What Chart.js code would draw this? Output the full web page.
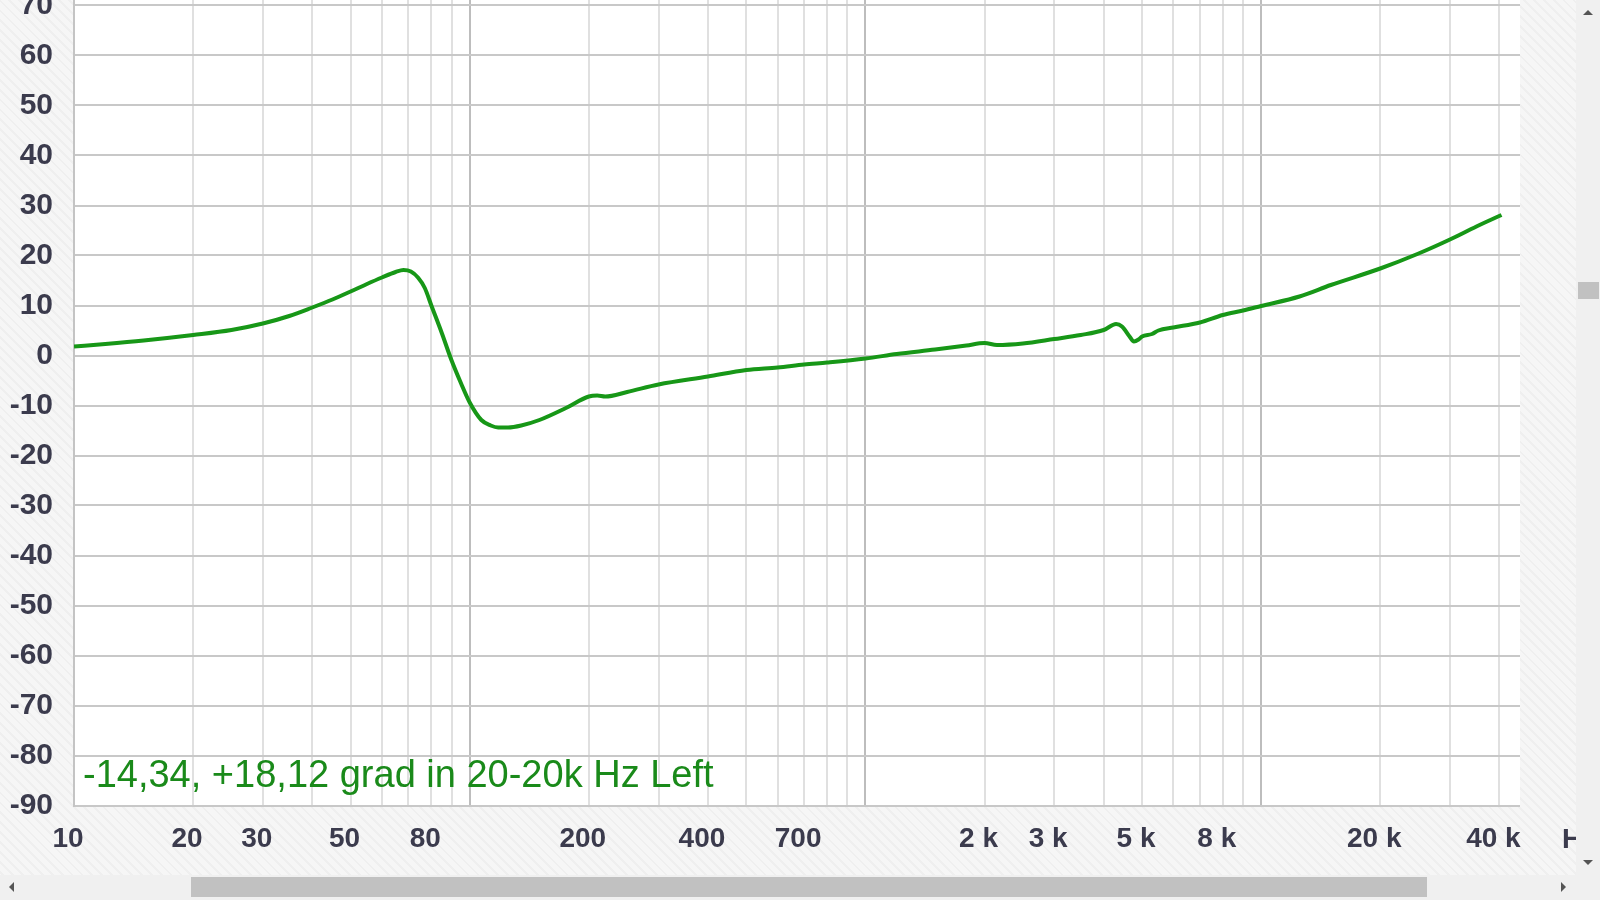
<!DOCTYPE html>
<html>
<head>
<meta charset="utf-8">
<script src="https://cdn.jsdelivr.net/npm/chart.js@4"></script>
<style>
  html, body { margin: 0; padding: 0; }
  body {
    width: 1600px; height: 900px; overflow: hidden; position: relative;
    background: repeating-linear-gradient(45deg, #f6f6f6 0px, #f6f6f6 5px, #efefef 5px, #efefef 7px);
  }
  #phase-chart { position: absolute; left: 0; top: 0; }
  .bar { position: absolute; background: #f0f0f0; }
  .thumb { position: absolute; background: #c1c1c1; }
  .arrow { position: absolute; width: 0; height: 0; }
</style>
</head>
<body>
<canvas id="phase-chart" width="1600" height="900"></canvas>

<div class="bar" style="left:1576px;top:0;width:24px;height:900px;"></div>
<div class="bar" style="left:0;top:875px;width:1600px;height:25px;"></div>
<div class="thumb" style="left:1578px;top:282px;width:21px;height:17px;"></div>
<div class="thumb" style="left:191px;top:877px;width:1236px;height:20px;"></div>
<div class="arrow" style="left:1583px;top:10px;border-left:5px solid transparent;border-right:5px solid transparent;border-bottom:5px solid #555;"></div>
<div class="arrow" style="left:1583px;top:860px;border-left:5px solid transparent;border-right:5px solid transparent;border-top:5px solid #555;"></div>
<div class="arrow" style="left:9px;top:882px;border-top:5px solid transparent;border-bottom:5px solid transparent;border-right:5px solid #555;"></div>
<div class="arrow" style="left:1561px;top:882px;border-top:5px solid transparent;border-bottom:5px solid transparent;border-left:5px solid #555;"></div>

<script>
// frequency (Hz) and phase (grad)
const freqs = [10, 12, 15, 20, 25, 30, 35, 40, 45, 50, 55, 60, 65, 68, 71, 74, 77, 80, 85, 90,
  95, 100, 107, 113, 118, 125, 135, 150, 175, 200, 210, 220, 250, 300, 400, 500, 600, 700, 800,
  1000, 1200, 1500, 1800, 2000, 2150, 2500, 3000, 3500, 4000, 4300, 4450, 4650, 4770, 4900, 5000,
  5300, 5500, 6000, 7000, 8000, 9000, 10000, 12500, 15000, 20000, 25000, 30000, 35000, 40500];
const phase = [1.8, 2.3, 3.0, 4.1, 5.1, 6.4, 7.9, 9.6, 11.2, 12.8, 14.3, 15.6, 16.7, 17.1, 16.8, 15.6, 13.5, 10.0, 4.5, -1.0,
  -5.5, -9.4, -12.9, -14.0, -14.4, -14.4, -14.0, -12.9, -10.5, -8.2, -8.0, -8.2, -7.3, -5.8, -4.2, -2.9, -2.4, -1.8, -1.4,
  -0.6, 0.3, 1.2, 2.0, 2.5, 2.1, 2.4, 3.3, 4.1, 5.1, 6.3, 5.8, 3.8, 2.8, 3.2, 3.8,
  4.3, 5.0, 5.6, 6.6, 8.1, 9.0, 9.9, 11.8, 14.1, 17.4, 20.4, 23.2, 25.8, 28.1];

const yTicks = [-90, -80, -70, -60, -50, -40, -30, -20, -10, 0, 10, 20, 30, 40, 50, 60, 70];
const xTickValues = [10, 20, 30, 50, 80, 200, 400, 700, 2000, 3000, 5000, 8000, 20000, 40000];
const xTickTexts = ["10", "20", "30", "50", "80", "200", "400", "700", "2 k", "3 k", "5 k", "8 k", "20 k", "40 k"];
const majorLines = [100, 1000, 10000];
const noteText = "-14,34, +18,12 grad in 20-20k Hz Left";
const unitText = "Hz";

// grid lines at 1..9 x every decade
const gridFreqs = [];
for (let d = 10; d <= 10000; d *= 10) {
  for (let m = 1; m <= 9; m++) {
    if (d * m <= 45000) gridFreqs.push(d * m);
  }
}

const points = [];
for (let i = 0; i < freqs.length; i++) {
  points.push({ x: freqs[i], y: phase[i] });
}

const labelColor = "#3b3b4d";

const extras = {
  id: "extras",
  beforeDraw(chart) {
    const { ctx, chartArea } = chart;
    ctx.save();
    ctx.fillStyle = "#ffffff";
    ctx.fillRect(chartArea.left, 0, chartArea.right - chartArea.left, chartArea.bottom);
    ctx.restore();
  },
  afterDraw(chart) {
    const { ctx } = chart;
    ctx.save();
    ctx.fillStyle = "#1a8a1a";
    ctx.font = "38px 'Liberation Sans'";
    ctx.textBaseline = "alphabetic";
    ctx.fillText(noteText, 83, 787);
    ctx.fillStyle = labelColor;
    ctx.font = "bold 28px 'Liberation Sans'";
    ctx.textBaseline = "middle";
    ctx.fillText(unitText, 1562, 840);
    ctx.restore();
  },
};

new Chart(document.getElementById("phase-chart"), {
  type: "line",
  data: {
    datasets: [
      {
        data: points,
        borderColor: "#179717",
        borderWidth: 4,
        pointRadius: 0,
        cubicInterpolationMode: "monotone",
        fill: false,
      },
    ],
  },
  options: {
    responsive: false,
    animation: false,
    devicePixelRatio: 1,
    layout: { padding: { left: 0, right: 80, top: 0, bottom: 0 } },
    plugins: { legend: { display: false }, tooltip: { enabled: false } },
    scales: {
      x: {
        type: "logarithmic",
        min: 10,
        max: 45100,
        afterBuildTicks: (s) => { s.ticks = gridFreqs.map((v) => ({ value: v })); },
        afterFit: (s) => { s.height = 94.5; s.paddingLeft = 0; s.paddingRight = 0; },
        grid: {
          color: (c) => (majorLines.includes(c.tick.value) ? "#bdbdbd" : "#e0e0e0"),
          lineWidth: 2,
          drawTicks: false,
        },
        border: { display: false },
        ticks: {
          autoSkip: false,
          maxRotation: 0,
          minRotation: 0,
          padding: 17,
          labelOffset: -6,
          font: { family: "Liberation Sans", weight: "bold", size: 28 },
          color: labelColor,
          callback: (v) => {
            const i = xTickValues.indexOf(v);
            return i >= 0 ? xTickTexts[i] : "";
          },
        },
      },
      y: {
        min: -90,
        max: 71.1,
        afterBuildTicks: (s) => { s.ticks = yTicks.map((v) => ({ value: v })); },
        afterFit: (s) => { s.width = 74; s.paddingTop = 0; s.paddingBottom = 0; },
        grid: { color: "#c8c8c8", lineWidth: 2, drawTicks: false },
        border: { display: true, color: "#c4c4c4", width: 2 },
        ticks: {
          padding: 21,
          font: { family: "Liberation Sans", weight: "bold", size: 30 },
          color: labelColor,
        },
      },
    },
  },
  plugins: [extras],
});
</script>
</body>
</html>
